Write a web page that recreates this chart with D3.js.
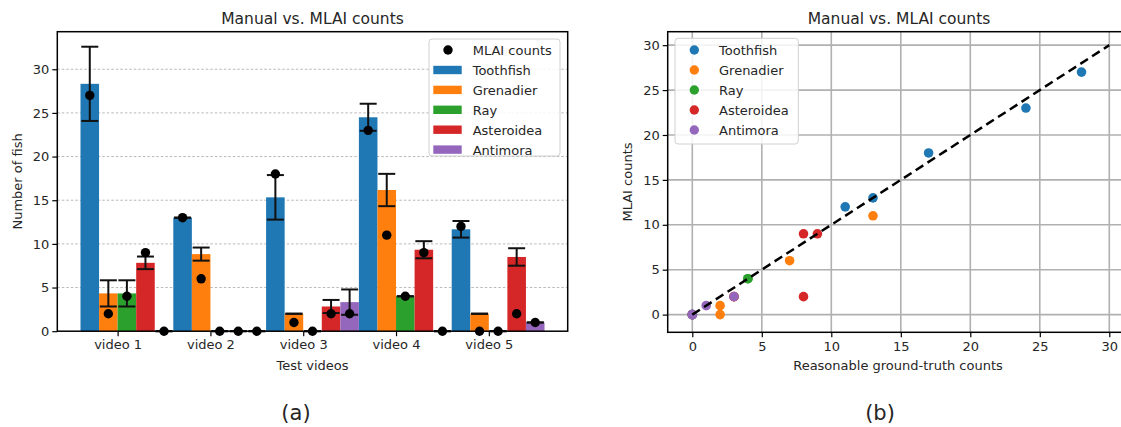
<!DOCTYPE html>
<html><head><meta charset="utf-8">
<script src="https://cdn.jsdelivr.net/npm/d3@7"></script>
<style>
html,body{margin:0;padding:0;background:#fff;}
svg text{font-family:"DejaVu Sans",sans-serif;fill:#262626;}
</style></head>
<body><svg id="c" width="1121" height="427"></svg>
<script>
// ---------- data ----------
const videos = ["video 1","video 2","video 3","video 4","video 5"];
const species = ["Toothfish","Grenadier","Ray","Asteroidea","Antimora"];
const colors = ["#1f77b4","#ff7f0e","#2ca02c","#d62728","#9467bd"];
// manual counts (bar heights) per species, per video
const manualToothfish  = [28.33, 13.0, 15.33, 24.5, 11.67];
const manualGrenadier  = [4.33, 8.83, 2.0, 16.17, 2.0];
const manualRay        = [4.33, 0, 0, 4.0, 0];
const manualAsteroidea = [7.83, 0, 2.83, 9.33, 8.5];
const manualAntimora   = [0, 0, 3.33, 0, 1.0];
// error bar half-lengths
const errToothfish  = [4.25, 0, 2.55, 1.55, 0.95];
const errGrenadier  = [1.5, 0.75, 0, 1.85, 0];
const errRay        = [1.5, 0, 0, 0, 0];
const errAsteroidea = [0.72, 0, 0.75, 0.98, 1.0];
const errAntimora   = [0, 0, 1.45, 0, 0];
// MLAI counts
const mlaiToothfish  = [27, 13, 18, 23, 12];
const mlaiGrenadier  = [2, 6, 1, 11, 0];
const mlaiRay        = [4, 0, 0, 4, 0];
const mlaiAsteroidea = [9, 0, 2, 9, 2];
const mlaiAntimora   = [0, 0, 2, 0, 1];
// reasonable ground-truth counts (scatter x)
const gtToothfish  = [28, 13, 17, 24, 11];
const gtGrenadier  = [3, 7, 2, 13, 2];
const gtRay        = [4, 0, 0, 4, 0];
const gtAsteroidea = [8, 0, 3, 9, 8];
const gtAntimora   = [0, 0, 3, 0, 1];
const yTicksL = [0,5,10,15,20,25,30];
const ticksR = [0,5,10,15,20,25,30];

const manual = [manualToothfish,manualGrenadier,manualRay,manualAsteroidea,manualAntimora];
const errs = [errToothfish,errGrenadier,errRay,errAsteroidea,errAntimora];
const mlai = [mlaiToothfish,mlaiGrenadier,mlaiRay,mlaiAsteroidea,mlaiAntimora];
const gt = [gtToothfish,gtGrenadier,gtRay,gtAsteroidea,gtAntimora];

const svg = d3.select("#c");
const barW = 0.2;

// ---------- left chart ----------
const L = {x0:57.3, x1:567.7, y0:331.2, y1:31.7};
const xL = d3.scaleLinear().domain([-0.35, 5.15]).range([L.x0, L.x1]);
const yL = d3.scaleLinear().domain([0, 34.3]).range([L.y0, L.y1]);
const gL = svg.append("g");

// grid
gL.selectAll("line.grid").data(yTicksL.slice(1)).join("line")
  .attr("x1",L.x0).attr("x2",L.x1).attr("y1",d=>yL(d)).attr("y2",d=>yL(d))
  .attr("stroke","#b8b8b8").attr("stroke-width",1).attr("stroke-dasharray","2.5,2");

// bars
species.forEach((s,k)=>{
  gL.append("g").selectAll("rect").data(manual[k]).join("rect")
    .attr("x",(d,i)=>xL(i+barW*k-barW/2))
    .attr("width",xL(barW)-xL(0))
    .attr("y",d=>yL(d)).attr("height",d=>yL(0)-yL(d))
    .attr("fill",colors[k]);
});
// error bars
species.forEach((s,k)=>{
  const g = gL.append("g").attr("stroke","#111").attr("stroke-width",2);
  manual[k].forEach((v,i)=>{
    const cx = xL(i+barW*k), e = errs[k][i];
    g.append("line").attr("x1",cx).attr("x2",cx).attr("y1",yL(v-e)).attr("y2",yL(v+e));
    [v-e, v+e].forEach(t=>g.append("line").attr("x1",cx-8.5).attr("x2",cx+8.5).attr("y1",yL(t)).attr("y2",yL(t)));
  });
});
// MLAI dots
species.forEach((s,k)=>{
  gL.append("g").selectAll("circle").data(mlai[k]).join("circle")
    .attr("cx",(d,i)=>xL(i+barW*k)).attr("cy",d=>yL(d)).attr("r",4.7).attr("fill","#000");
});

// frame
gL.append("rect").attr("x",L.x0).attr("y",L.y1).attr("width",L.x1-L.x0).attr("height",L.y0-L.y1)
  .attr("fill","none").attr("stroke","#000").attr("stroke-width",1.5);

// axes
const axYL = gL.append("g").attr("transform",`translate(${L.x0},0)`)
  .call(d3.axisLeft(yL).tickValues(yTicksL).tickSize(5).tickPadding(3));
const axXL = gL.append("g").attr("transform",`translate(0,${L.y0})`)
  .call(d3.axisBottom(xL).tickValues(videos.map((v,i)=>i+1.5*barW)).tickFormat((d,i)=>videos[i]).tickSize(5).tickPadding(4));
[axYL,axXL].forEach(a=>{a.select(".domain").remove();
  a.selectAll("text").attr("font-size",13).attr("font-family","DejaVu Sans").attr("fill","#262626");
  a.selectAll("line").attr("stroke","#000").attr("stroke-width",1.2);});

gL.append("text").attr("x",(L.x0+L.x1)/2).attr("y",24).attr("text-anchor","middle").attr("font-size",15.5).text("Manual vs. MLAI counts");
gL.append("text").attr("x",(L.x0+L.x1)/2).attr("y",370).attr("text-anchor","middle").attr("font-size",13).text("Test videos");
gL.append("text").attr("transform",`translate(22,${(L.y0+L.y1)/2}) rotate(-90)`).attr("text-anchor","middle").attr("font-size",13).text("Number of fish");

// legend left
const lgL = gL.append("g");
lgL.append("rect").attr("x",429).attr("y",39).attr("width",131).attr("height",117).attr("rx",3)
  .attr("fill","#fff").attr("fill-opacity",0.85).attr("stroke","#d0d0d0");
lgL.append("circle").attr("cx",448).attr("cy",50).attr("r",4.7).attr("fill","#000");
lgL.append("text").attr("x",472.7).attr("y",55).attr("font-size",13).text("MLAI counts");
species.forEach((s,k)=>{
  const cy = 70 + k*19.9;
  lgL.append("rect").attr("x",433.3).attr("y",cy-4.2).attr("width",28.4).attr("height",8.4).attr("fill",colors[k]);
  lgL.append("text").attr("x",472.7).attr("y",cy+5).attr("font-size",13).text(s);
});

// ---------- right chart ----------
const R = {x0:667.7, x1:1133.9, y0:332.3, y1:31.7};
const xR = d3.scaleLinear().domain([-1.77, 31.77]).range([R.x0, R.x1]);
const yR = d3.scaleLinear().domain([-1.97, 31.5]).range([R.y0, R.y1]);
const gR = svg.append("g");

gR.selectAll("line.gx").data(ticksR).join("line")
  .attr("x1",d=>xR(d)).attr("x2",d=>xR(d)).attr("y1",R.y0).attr("y2",R.y1)
  .attr("stroke","#b0b0b0").attr("stroke-width",1.6);
gR.selectAll("line.gy").data(ticksR).join("line")
  .attr("x1",R.x0).attr("x2",R.x1).attr("y1",d=>yR(d)).attr("y2",d=>yR(d))
  .attr("stroke","#b0b0b0").attr("stroke-width",1.6);

species.forEach((s,k)=>{
  gR.append("g").selectAll("circle").data(gt[k]).join("circle")
    .attr("cx",d=>xR(d)).attr("cy",(d,i)=>yR(mlai[k][i])).attr("r",4.8).attr("fill",colors[k]);
});
gR.append("line").attr("x1",xR(0)).attr("y1",yR(0)).attr("x2",xR(30)).attr("y2",yR(30))
  .attr("stroke","#000").attr("stroke-width",2.5).attr("stroke-dasharray","9,5");

gR.append("rect").attr("x",R.x0).attr("y",R.y1).attr("width",R.x1-R.x0).attr("height",R.y0-R.y1)
  .attr("fill","none").attr("stroke","#000").attr("stroke-width",1.5);

const axYR = gR.append("g").attr("transform",`translate(${R.x0},0)`)
  .call(d3.axisLeft(yR).tickValues(ticksR).tickSize(5).tickPadding(3));
const axXR = gR.append("g").attr("transform",`translate(0,${R.y0})`)
  .call(d3.axisBottom(xR).tickValues(ticksR).tickSize(5).tickPadding(4));
[axYR,axXR].forEach(a=>{a.select(".domain").remove();
  a.selectAll("text").attr("font-size",13).attr("font-family","DejaVu Sans").attr("fill","#262626");
  a.selectAll("line").attr("stroke","#000").attr("stroke-width",1.2);});

gR.append("text").attr("x",899).attr("y",24).attr("text-anchor","middle").attr("font-size",15.5).text("Manual vs. MLAI counts");
gR.append("text").attr("x",898).attr("y",370).attr("text-anchor","middle").attr("font-size",13).text("Reasonable ground-truth counts");
gR.append("text").attr("transform",`translate(632,${(R.y0+R.y1)/2}) rotate(-90)`).attr("text-anchor","middle").attr("font-size",13).text("MLAI counts");

const lgR = gR.append("g");
lgR.append("rect").attr("x",675).attr("y",38.3).attr("width",123.3).attr("height",105.7).attr("rx",3)
  .attr("fill","#fff").attr("fill-opacity",0.85).attr("stroke","#d0d0d0");
species.forEach((s,k)=>{
  const cy = 50 + k*20;
  lgR.append("circle").attr("cx",694.3).attr("cy",cy).attr("r",4.7).attr("fill",colors[k]);
  lgR.append("text").attr("x",719).attr("y",cy+5).attr("font-size",13).text(s);
});

// captions
svg.append("text").attr("x",296).attr("y",420).attr("text-anchor","middle").attr("font-family","Liberation Sans").attr("font-size",21).attr("fill","#111").text("(a)");
svg.append("text").attr("x",880).attr("y",420).attr("text-anchor","middle").attr("font-family","Liberation Sans").attr("font-size",21).attr("fill","#111").text("(b)");
</script></body></html>
